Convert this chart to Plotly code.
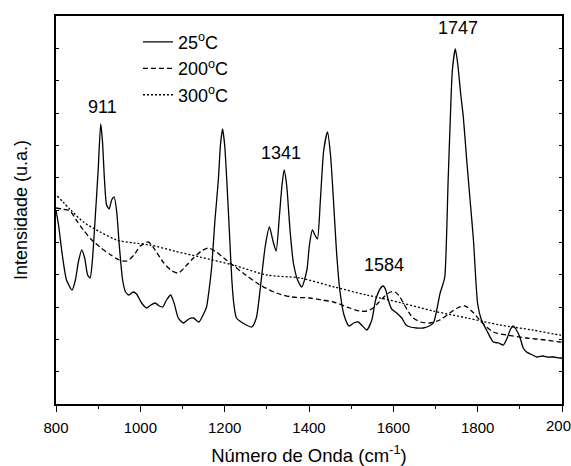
import plotly.graph_objects as go

# wavenumbers (cm^-1) and intensities (a.u.)
wn_25 = [800, 806, 815, 825, 838, 846, 853, 861, 868, 875, 881, 886, 893, 900, 906, 910, 915, 920,
         926, 932, 938, 944, 950, 958, 965, 973, 983, 991, 1003, 1015, 1025, 1035, 1045, 1053, 1062,
         1072, 1080, 1090, 1102, 1115, 1126, 1139, 1150, 1157, 1163, 1169, 1177, 1185, 1190, 1195,
         1200, 1205, 1211, 1217, 1222, 1228, 1243, 1264, 1275, 1284, 1296, 1306, 1314, 1322, 1330,
         1336, 1341, 1347, 1355, 1363, 1373, 1383, 1395, 1401, 1408, 1414, 1420, 1427, 1435, 1444,
         1451, 1458, 1465, 1473, 1483, 1495, 1506, 1517, 1527, 1537, 1549, 1558, 1570, 1576, 1582,
         1588, 1596, 1608, 1620, 1630, 1640, 1655, 1671, 1685, 1695, 1703, 1711, 1717, 1722, 1730,
         1735, 1740, 1747, 1753, 1760, 1766, 1774, 1782, 1790, 1800, 1809, 1821, 1837, 1850, 1861,
         1870, 1877, 1884, 1892, 1900, 1908, 1916, 1930, 1940, 1955, 1965, 1980, 1995, 2000]
int_25 = [194, 179, 149, 124, 114, 124, 142, 154, 146, 129, 126, 142, 186, 234, 280, 264, 224, 199,
          195, 204, 207, 192, 159, 124, 112, 109, 112, 110, 101, 96, 99, 101, 98, 97, 104,
          109, 101, 86, 81, 85, 86, 82, 90, 97, 114, 136, 184, 224, 259, 275,
          259, 224, 174, 124, 99, 86, 81, 77, 86, 114, 157, 177, 164, 153, 189,
          219, 234, 219, 174, 141, 124, 117, 134, 159, 174, 169, 165, 204, 254, 272,
          249, 204, 154, 114, 89, 78, 81, 82, 78, 74, 84, 104, 116, 118, 114,
          104, 95, 91, 86, 79, 77, 76, 76, 78, 81, 94, 111, 119, 127, 224,
          284, 334, 355, 339, 309, 287, 244, 204, 164, 100, 84, 74, 62, 61, 59,
          66, 74, 78, 74, 67, 56, 52, 49, 47, 48, 47, 47, 46, 46]

wn_200 = [800, 815, 833, 848, 865, 885, 904, 930, 950, 968, 985, 1000, 1019, 1035, 1054, 1072, 1090,
          1108, 1126, 1145, 1161, 1180, 1198, 1213, 1250, 1284, 1323, 1360, 1402, 1430, 1458, 1497,
          1520, 1537, 1552, 1564, 1580, 1593, 1604, 1614, 1624, 1636, 1647, 1665, 1687, 1710, 1734,
          1752, 1770, 1788, 1809, 1837, 1870, 1916, 1960, 1995, 2000]
int_200 = [196, 195, 193, 184, 174, 164, 157, 149, 144, 143, 149, 158, 162, 154, 142, 134, 131,
           138, 146, 153, 156, 152, 146, 141, 129, 119, 111, 107, 106, 104, 102, 96,
           93, 93, 96, 101, 108, 112, 112, 108, 101, 92, 86, 82, 81, 84, 91,
           96, 98, 92, 82, 72, 69, 66, 64, 62, 62]

wn_300 = [803, 835, 865, 905, 944, 985, 1023, 1080, 1141, 1220, 1300, 1379, 1460, 1537, 1620, 1695,
          1775, 1853, 1930, 1995, 2000]
int_300 = [208, 194, 182, 172, 164, 161, 159, 153, 147, 139, 129, 126, 117, 109, 101, 93,
           86, 79, 74, 69, 69]

peak_pos = [911, 1334, 1578, 1753]
peak_lab = ["911", "1341", "1584", "1747"]
peak_lab_y = [297, 251, 139, 376]

series_names = ["25<sup>o</sup>C", "200<sup>o</sup>C", "300<sup>o</sup>C"]
x_ticks = [800, 1000, 1200, 1400, 1600, 1800]
x_tick_text = ["800", "1000", "1200", "1400", "1600", "1800"]
x_last_tick = 2000

FONT = "Liberation Sans, Arial, sans-serif"

fig = go.Figure()
fig.add_trace(go.Scatter(x=wn_25, y=int_25, mode="lines", name=series_names[0],
                         line=dict(color="black", width=1.3, shape="spline", smoothing=0.6)))
fig.add_trace(go.Scatter(x=wn_200, y=int_200, mode="lines", name=series_names[1],
                         line=dict(color="black", width=1.3, dash="5px,3px", shape="spline", smoothing=0.8)))
fig.add_trace(go.Scatter(x=wn_300, y=int_300, mode="lines", name=series_names[2],
                         line=dict(color="black", width=1.3, dash="2px,2px", shape="spline", smoothing=0.8)))

for px, lab, py in zip(peak_pos, peak_lab, peak_lab_y):
    fig.add_annotation(x=px, y=py, text=lab, showarrow=False,
                       font=dict(family=FONT, size=18, color="black"))

# last tick label at the right edge (cut by the page edge as in the original)
fig.add_annotation(x=x_last_tick, xref="x", y=0, yref="paper", yanchor="top", yshift=-11,
                   text=str(x_last_tick), showarrow=False,
                   font=dict(family=FONT, size=15, color="black"))

fig.update_layout(
    width=571, height=466,
    margin=dict(l=56, r=9, t=16, b=62, autoexpand=False),
    paper_bgcolor="white", plot_bgcolor="white",
    font=dict(family=FONT, color="black"),
    showlegend=True,
    legend=dict(x=0.162, y=0.98, xanchor="left", yanchor="top",
                bgcolor="rgba(0,0,0,0)", font=dict(family=FONT, size=18, color="black"),
                itemwidth=30, tracegroupgap=0),
)
fig.update_xaxes(range=[800, 2000], tickvals=x_ticks + [x_last_tick], ticktext=x_tick_text + [""],
                 ticks="outside", ticklen=6, tickwidth=1, tickcolor="black",
                 ticklabelstandoff=3,
                 minor=dict(dtick=100, ticks="outside", ticklen=3, tickcolor="black"),
                 showline=True, linecolor="black", linewidth=1.5, mirror=True,
                 showgrid=False, zeroline=False,
                 tickfont=dict(family=FONT, size=15, color="black"),
                 title=dict(text="Número de Onda (cm<sup>-1</sup>)",
                            font=dict(family=FONT, size=18.5, color="black"), standoff=16))
fig.update_yaxes(range=[0, 388], tick0=0, dtick=388 / 12, showticklabels=False,
                 ticks="inside", ticklen=3, tickwidth=1, tickcolor="black",
                 showline=True, linecolor="black", linewidth=1.5, mirror="ticks",
                 showgrid=False, zeroline=False,
                 title=dict(text="Intensidade (u.a.)",
                            font=dict(family=FONT, size=18, color="black"), standoff=22))

fig.write_html("out.html")
